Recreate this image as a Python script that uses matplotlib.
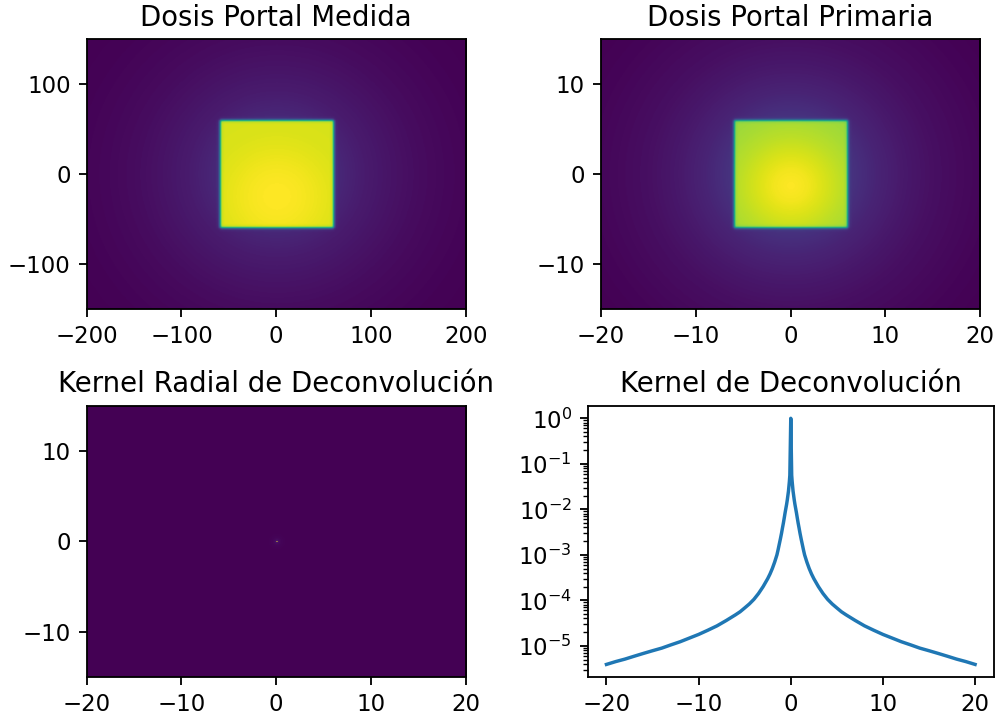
import numpy as np
import matplotlib.pyplot as plt
from matplotlib.ticker import LogLocator

# campo cuadrado (semiancho) y extension de cada imagen
campo_medida = 60
campo_primaria = 6
ext_medida = [-200, 200, -150, 150]
ext_primaria = [-20, 20, -15, 15]

# perfil del borde del campo (distancia al borde / semiancho)
borde_d = [-0.08, -0.04, -0.015, 0.0, 0.015, 0.04, 0.08]
borde_v = [1.0, 0.97, 0.8, 0.5, 0.2, 0.03, 0.0]

# dosis dentro del campo vs distancia al punto caliente (/semiancho)
dentro_r = [0.0, 0.3, 0.6, 0.9, 1.2, 1.5]
dentro_medida = [1.0, 0.995, 0.98, 0.96, 0.945, 0.94]
dentro_primaria = [1.0, 0.98, 0.94, 0.90, 0.87, 0.85]
caliente_medida = (0, -25)
caliente_primaria = (0, -1.3)

# dispersion fuera del campo vs distancia al centro (/semiancho)
disp_r = [0.0, 1.0, 1.5, 2.0, 2.5, 3.0, 3.5, 4.5]
disp_medida = [0.13, 0.12, 0.08, 0.055, 0.035, 0.022, 0.012, 0.0]
disp_primaria = [0.17, 0.16, 0.11, 0.075, 0.05, 0.035, 0.022, 0.005]

# kernel de deconvolucion (lado positivo, se refleja)
kernel_r = [0, 0.1, 0.15, 0.2, 0.25, 0.3, 0.375, 0.45, 0.53, 0.62, 0.7, 0.8,
            0.9, 1.0, 1.125, 1.25, 1.375, 1.5, 1.75, 2.0, 2.25, 2.5, 2.75, 3.0,
            3.5, 4.0, 4.5, 5.0, 5.5, 6.0, 7.0, 8.0, 9.0, 10.0,
            11.0, 12.0, 13.0, 14.0, 15.0, 16.0, 17.0, 18.0, 19.0, 20.0]
kernel_v = [1.0, 0.056, 0.041, 0.032, 0.025, 0.021, 0.0162, 0.0129, 0.0105,
            0.0083, 0.0066, 0.005, 0.0039, 0.003, 0.00224, 0.0017, 0.00129,
            0.001, 6.9e-4, 5.0e-4, 3.8e-4, 3.0e-4, 2.45e-4, 2.0e-4,
            1.41e-4, 1.05e-4, 8.3e-5, 6.8e-5, 5.6e-5, 4.8e-5, 3.6e-5, 2.75e-5,
            2.2e-5, 1.78e-5, 1.48e-5, 1.23e-5, 1.05e-5, 8.9e-6, 7.8e-6, 6.8e-6,
            5.9e-6, 5.1e-6, 4.5e-6, 3.9e-6]


def dosis(ext, semi, nx, ny, dentro, caliente, disp):
    x = np.linspace(ext[0], ext[1], nx)
    y = np.linspace(ext[2], ext[3], ny)
    X, Y = np.meshgrid(x, y)
    fx = np.interp((np.abs(X) - semi) / semi, borde_d, borde_v)
    fy = np.interp((np.abs(Y) - semi) / semi, borde_d, borde_v)
    f = fx * fy
    rc = np.hypot(X - caliente[0], Y - caliente[1]) / semi
    rs = np.hypot(X, Y) / semi
    return f * np.interp(rc, dentro_r, dentro) + (1 - f) * np.interp(rs, disp_r, disp)


img_medida = dosis(ext_medida, campo_medida, 400, 300, dentro_medida, caliente_medida, disp_medida)
img_primaria = dosis(ext_primaria, campo_primaria, 400, 300, dentro_primaria, caliente_primaria, disp_primaria)

xk = np.linspace(-20, 20, 401)
yk = np.linspace(-15, 15, 301)
XK, YK = np.meshgrid(xk, yk)
img_kernel = np.interp(np.hypot(XK, YK), kernel_r, kernel_v)

kx = [-r for r in kernel_r[::-1]] + kernel_r[1:]
ky = kernel_v[::-1] + kernel_v[1:]

fig, axs = plt.subplots(2, 2, figsize=(998 / 165, 720 / 165), dpi=165)

axs[0, 0].imshow(img_medida, extent=ext_medida, origin='lower', aspect='auto')
axs[0, 0].set_title('Dosis Portal Medida')

axs[0, 1].imshow(img_primaria, extent=ext_primaria, origin='lower', aspect='auto')
axs[0, 1].set_title('Dosis Portal Primaria')

axs[1, 0].imshow(img_kernel, extent=ext_primaria, origin='lower', aspect='auto')
axs[1, 0].set_title('Kernel Radial de Deconvolución')

axs[1, 1].semilogy(kx, ky)
axs[1, 1].yaxis.set_major_locator(LogLocator(base=10, numticks=12))
axs[1, 1].yaxis.set_minor_locator(LogLocator(base=10, subs=np.arange(2, 10), numticks=12))
axs[1, 1].set_title('Kernel de Deconvolución')

# posiciones medidas en la figura original
axs[0, 0].set_position([0.0869, 0.5704, 0.3798, 0.375])
axs[0, 1].set_position([0.6022, 0.5704, 0.3798, 0.375])
axs[1, 0].set_position([0.0869, 0.0601, 0.3798, 0.376])
axs[1, 1].set_position([0.5892, 0.0601, 0.4063, 0.376])

plt.savefig('out.png')
